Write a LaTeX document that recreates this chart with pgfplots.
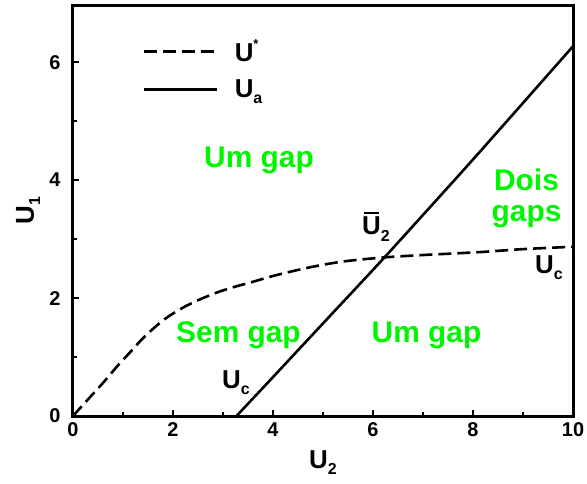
\documentclass[border=0pt]{standalone}
\usepackage{pgfplots}
\pgfplotsset{compat=1.18}
\usepackage{fontspec}
\setmainfont{Liberation Sans}
\definecolor{lgreen}{RGB}{0,245,0}
\newcommand{\lab}[2]{{\fontsize{#1}{#1}\selectfont\bfseries #2}}
\newcommand{\sub}[1]{\raisebox{-0.45ex}{\fontsize{16}{16}\selectfont\bfseries #1}}
\newcommand{\sups}[1]{\raisebox{0.9ex}{\fontsize{13}{13}\selectfont\bfseries #1}}
\newsavebox{\ubox}
\newcommand{\ubar}{\sbox{\ubox}{U}\rlap{\hspace{0.1\wd\ubox}\raisebox{1.2\ht\ubox}{\rule{0.8\wd\ubox}{2bp}}}U}
\begin{document}
\begin{tikzpicture}
\path[use as bounding box] (-73bp,-68bp) rectangle (514bp,416bp);
\begin{axis}[
  at={(0,0)}, anchor=south west,
  scale only axis, width=500bp, height=411bp,
  xmin=0, xmax=10, ymin=0, ymax=6.97,
  xtick={0,2,4,6,8,10}, ytick={0,2,4,6},
  minor x tick num=1, minor y tick num=1,
  tick pos=left, tick align=inside,
  major tick length=6bp, minor tick length=4bp,
  axis line style={line width=3bp},
  every tick/.style={line width=2bp, black},
  /pgf/number format/assume math mode=true,
  tick label style={font=\fontsize{20}{20}\selectfont\bfseries},
  yticklabel style={xshift=-9bp},
  xticklabel style={yshift=-3bp},
  xlabel={\lab{26}{U\sub{2}}},
  ylabel={\lab{26}{U\sub{1}}},
  xlabel style={at={(axis description cs:0.5,0)}, anchor=base, yshift=-52bp},
  ylabel style={at={(axis description cs:-0.078,0.5)}, anchor=base},
  legend style={at={(axis description cs:0.14,0.92)}, anchor=north west,
    draw=none, fill=none, inner sep=0pt, row sep=13bp,
    font=\fontsize{26}{30}\selectfont\bfseries,
    cells={anchor=west}},
  legend image code/.code={\draw[#1] (0bp,0bp) -- (73bp,0bp); \path (87bp,0bp);},
]
\addplot[black, line width=2.6bp, dash pattern=on 13bp off 6bp, smooth, tension=0.5] coordinates {
(0,0) (0.33,0.31) (0.61,0.57) (0.87,0.83) (1.13,1.07) (1.4,1.32) (1.67,1.53)
(1.93,1.70) (2.27,1.87) (2.6,2.0) (2.93,2.11) (3.27,2.2) (3.53,2.26) (4.07,2.39)
(4.73,2.52) (5.4,2.62) (6.23,2.69) (7,2.73) (8.14,2.78) (9,2.83) (10,2.87)};
\addlegendentry{U\sups{*}}
\addplot[black, line width=2.6bp, smooth, tension=0.3] coordinates {
(3.27,0) (4,0.66) (5,1.57) (6.23,2.69) (8,4.35) (10,6.27)};
\addlegendentry{U\sub{a}}

\node[anchor=base, text=lgreen] at (axis cs:3.72,4.22) {\lab{30}{Um gap}};
\node[anchor=base, text=lgreen] at (axis cs:9.07,3.83) {\lab{30}{Dois}};
\node[anchor=base, text=lgreen] at (axis cs:9.07,3.29) {\lab{30}{gaps}};
\node[anchor=base, text=lgreen] at (axis cs:3.31,1.25) {\lab{30}{Sem gap}};
\node[anchor=base, text=lgreen] at (axis cs:7.07,1.24) {\lab{30}{Um gap}};

\node[anchor=base west, inner sep=0pt] at (axis cs:5.78,3.07) {\lab{26}{\ubar\sub{2}}};
\node[anchor=base west, inner sep=0pt] at (axis cs:9.24,2.42) {\lab{26}{U\sub{c}}};
\node[anchor=base west, inner sep=0pt] at (axis cs:2.98,0.47) {\lab{26}{U\sub{c}}};
\end{axis}
\end{tikzpicture}
\end{document}
